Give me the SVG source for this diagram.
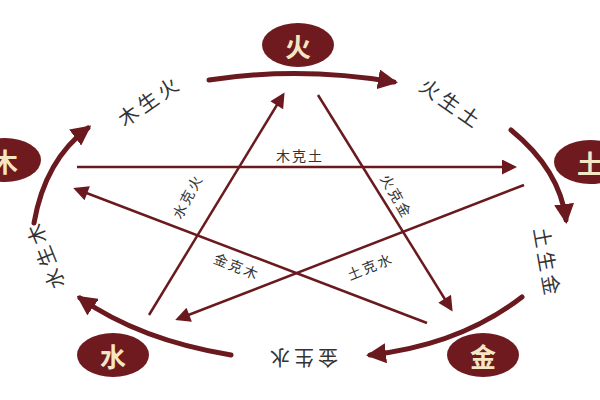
<svg xmlns="http://www.w3.org/2000/svg" width="600" height="400" viewBox="0 0 600 400">
<style>
.c{fill:none;stroke:#6a1a1f;stroke-width:5;stroke-linecap:round}
.s{fill:none;stroke:#6a1a1f;stroke-width:2.5}
.n{fill:#6e1a1e}
.nt{font-family:"Noto Sans CJK SC",sans-serif;font-weight:bold;font-size:26px;fill:#f6e7c4;text-anchor:middle;dominant-baseline:central}
.l{font-family:"Noto Sans CJK SC",sans-serif;font-size:20px;letter-spacing:4px;fill:#333;text-anchor:middle;dominant-baseline:central}
.k{font-family:"Noto Sans CJK SC",sans-serif;font-size:14px;letter-spacing:2px;fill:#333;text-anchor:middle;dominant-baseline:central}
</style>
<defs>
<marker id="a" viewBox="0 0 10 10" refX="8" refY="5" markerWidth="4" markerHeight="4" orient="auto" markerUnits="strokeWidth"><path d="M0,0 L10,5 L0,10 z" fill="#6a1a1f"/></marker>
<marker id="b" viewBox="0 0 10 10" refX="8" refY="5" markerWidth="8" markerHeight="6" orient="auto" markerUnits="strokeWidth"><path d="M0,0 L10,5 L0,10 z" fill="#6a1a1f"/></marker>
</defs>
<g id="connectors">
<path class="c" d="M209,80 Q300,66 394,82" marker-end="url(#a)"/>
<path class="c" d="M511,130 Q560,170 566,220" marker-end="url(#a)"/>
<path class="c" d="M522,297 Q460,345 370,355" marker-end="url(#a)"/>
<path class="c" d="M231,355 Q140,340 80,298" marker-end="url(#a)"/>
<path class="c" d="M34,223 Q45,160 88,128" marker-end="url(#a)"/>
<line class="s" x1="77" y1="167" x2="514" y2="167" marker-end="url(#b)"/>
<line class="s" x1="149" y1="315" x2="283" y2="95" marker-end="url(#b)"/>
<line class="s" x1="318" y1="95" x2="451" y2="309" marker-end="url(#b)"/>
<line class="s" x1="427" y1="323" x2="76" y2="189" marker-end="url(#b)"/>
<line class="s" x1="524" y1="185" x2="178" y2="319" marker-end="url(#b)"/>
</g>
<g id="labels">
<text class="l" transform="translate(149,100) rotate(-35)">木生火</text>
<text class="l" transform="translate(452,103) rotate(35)">火生土</text>
<text class="l" transform="translate(548,263) rotate(80)">土生金</text>
<text class="l" transform="translate(302,358) rotate(180)">金生水</text>
<text class="l" transform="translate(44,255) rotate(-112)">水生木</text>
<text class="k" x="300" y="155">木克土</text>
<text class="k" transform="translate(187,196) rotate(-62)">水克火</text>
<text class="k" transform="translate(397,196) rotate(60)">火克金</text>
<text class="k" transform="translate(237,266) rotate(22)">金克木</text>
<text class="k" transform="translate(370,266) rotate(-22)">土克水</text>
</g>
<g id="huo"><ellipse class="n" cx="298" cy="45" rx="36" ry="22"/><text class="nt" x="298" y="45">火</text></g>
<g id="tu"><ellipse class="n" cx="590" cy="162" rx="36" ry="22"/><text class="nt" x="590" y="162">土</text></g>
<g id="jin"><ellipse class="n" cx="483" cy="355" rx="36" ry="22"/><text class="nt" x="483" y="355">金</text></g>
<g id="shui"><ellipse class="n" cx="113" cy="355" rx="36" ry="22"/><text class="nt" x="113" y="355">水</text></g>
<g id="mu"><ellipse class="n" cx="5" cy="160" rx="36" ry="22"/><text class="nt" x="5" y="160">木</text></g>
</svg>
